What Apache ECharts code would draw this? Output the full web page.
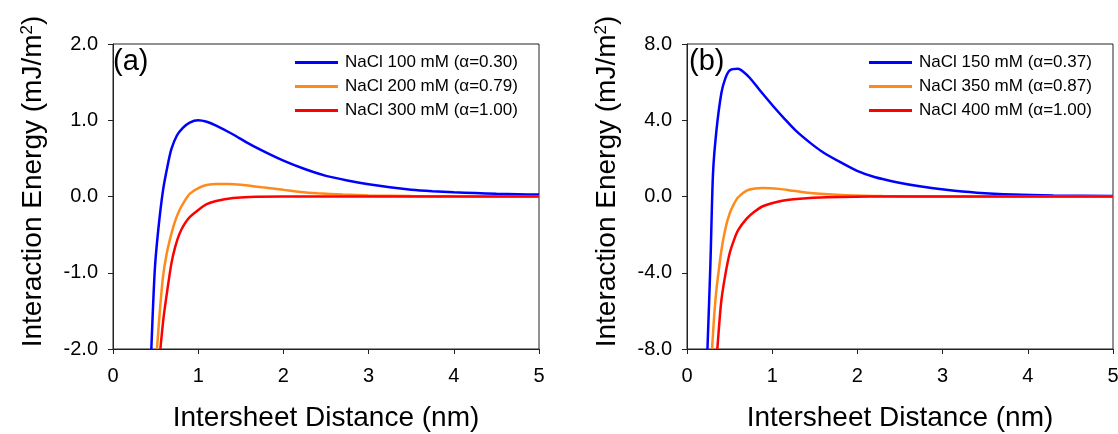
<!DOCTYPE html>
<html>
<head>
<meta charset="utf-8">
<script src="https://cdn.jsdelivr.net/npm/echarts@6/dist/echarts.min.js"></script>
<style>html,body{margin:0;padding:0;background:#fff;}#c{width:1118px;height:434px;}</style>
</head>
<body>
<div id="c"></div>
<script>
// ---- data ----
const xTicks = [0, 1, 2, 3, 4, 5];
const yTicksA = [-2, -1, 0, 1, 2];
const yTicksB = [-8, -4, 0, 4, 8];
const namesA = ['NaCl 100 mM (α=0.30)', 'NaCl 200 mM (α=0.79)', 'NaCl 300 mM (α=1.00)'];
const namesB = ['NaCl 150 mM (α=0.37)', 'NaCl 350 mM (α=0.87)', 'NaCl 400 mM (α=1.00)'];
const blueA = [[0.45,-2],[0.49,-0.97],[0.53,-0.45],[0.587,0.08],[0.64,0.40],[0.685,0.62],[0.75,0.80],[0.82,0.90],[0.9,0.97],[1.0,1.0],[1.1,0.98],[1.21,0.93],[1.4,0.82],[1.6,0.69],[1.8,0.575],[2.0,0.47],[2.25,0.36],[2.5,0.27],[2.75,0.21],[3.0,0.16],[3.25,0.12],[3.5,0.09],[3.75,0.07],[4.0,0.055],[4.25,0.045],[4.5,0.035],[4.75,0.03],[5.0,0.025]];
const orangeA = [[0.516,-2],[0.55,-1.5],[0.587,-1.05],[0.63,-0.75],[0.685,-0.49],[0.73,-0.32],[0.78,-0.18],[0.84,-0.06],[0.9,0.035],[1.02,0.12],[1.1,0.15],[1.21,0.165],[1.35,0.165],[1.5,0.155],[1.75,0.12],[2.0,0.087],[2.2,0.06],[2.4,0.043],[2.7,0.025],[3.0,0.013],[3.5,0.005],[4.0,0.002],[5.0,0]];
const redA = [[0.556,-2],[0.59,-1.62],[0.627,-1.31],[0.685,-0.88],[0.73,-0.66],[0.78,-0.49],[0.84,-0.36],[0.9,-0.27],[1.02,-0.16],[1.1,-0.1],[1.21,-0.06],[1.41,-0.02],[1.6,-0.005],[2.0,0],[3.0,0],[4.0,0],[5.0,0]];
const blueB = [[0.24,-8],[0.275,-3.51],[0.305,1.18],[0.345,3.44],[0.404,5.44],[0.45,6.2],[0.50,6.61],[0.60,6.70],[0.66,6.55],[0.736,6.23],[0.85,5.6],[1.01,4.75],[1.15,4.05],[1.28,3.44],[1.45,2.8],[1.60,2.31],[1.8,1.8],[1.99,1.36],[2.2,1.02],[2.46,0.75],[2.75,0.52],[3.04,0.35],[3.4,0.2],[3.83,0.10],[4.3,0.05],[5.0,0.02]];
const orangeB = [[0.294,-8],[0.32,-6.2],[0.345,-4.9],[0.375,-3.8],[0.404,-2.82],[0.45,-1.7],[0.50,-0.90],[0.55,-0.4],[0.60,-0.04],[0.70,0.31],[0.8,0.42],[0.89,0.45],[1.08,0.40],[1.25,0.3],[1.48,0.17],[1.87,0.07],[2.3,0.02],[3.0,0],[4.0,0],[5.0,0]];
const redB = [[0.356,-8],[0.38,-6.6],[0.404,-5.43],[0.45,-4.1],[0.50,-2.99],[0.55,-2.3],[0.60,-1.77],[0.70,-1.16],[0.79,-0.8],[0.89,-0.51],[1.09,-0.25],[1.25,-0.15],[1.48,-0.07],[1.8,-0.02],[2.5,0],[3.0,0],[4.0,0],[5.0,0]];

// ---- styling ----
const FONT = '"Liberation Sans", Arial, sans-serif';
const colors = ['#0000ff', '#ff8a1a', '#ff0000'];
const axisColor = '#222';

function xAxis(gi) {
  return {
    type: 'value', gridIndex: gi,
    min: xTicks[0], max: xTicks[xTicks.length - 1], interval: xTicks[1] - xTicks[0],
    splitLine: { show: false },
    axisLine: { show: true, onZero: false, lineStyle: { color: axisColor, width: 1 } },
    axisTick: { show: true, inside: false, length: 5, lineStyle: { color: axisColor } },
    axisLabel: { color: '#000', fontSize: 20, fontFamily: FONT, margin: 17,
                 formatter: v => String(v) },
    name: 'Intersheet Distance (nm)', nameLocation: 'middle', nameGap: 55,
    nameTextStyle: { color: '#000', fontSize: 28, fontFamily: FONT }
  };
}
function yAxis(gi, ticks) {
  return {
    type: 'value', gridIndex: gi,
    min: ticks[0], max: ticks[ticks.length - 1], interval: ticks[1] - ticks[0],
    splitLine: { show: false },
    axisLine: { show: true, onZero: false, lineStyle: { color: axisColor, width: 1 } },
    axisTick: { show: true, inside: false, length: 5, lineStyle: { color: axisColor } },
    axisLabel: { color: '#000', fontSize: 20, fontFamily: FONT, margin: 15,
                 formatter: v => v.toFixed(1) },
    name: '{t|Interaction Energy (mJ/m}{s|2}{t|)}', nameLocation: 'middle', nameGap: 66,
    nameTextStyle: { color: '#000', fontFamily: FONT, padding: [0, 0, 0, 30],
      rich: { t: { fontSize: 28, fontFamily: FONT, color: '#000' },
              s: { fontSize: 17, fontFamily: FONT, color: '#000', verticalAlign: 'top' } } }
  };
}
function series(name, data, ci, gi) {
  return { type: 'line', name: name, data: data, xAxisIndex: gi, yAxisIndex: gi,
    showSymbol: false, symbol: 'none', smooth: 0.25, clip: true,
    lineStyle: { color: colors[ci], width: 2.5 }, itemStyle: { color: colors[ci] } };
}
function legend(left, names) {
  return { orient: 'vertical', left: left, top: 54, padding: 0, itemGap: 7,
    itemWidth: 43, itemHeight: 3, icon: 'rect', data: names,
    textStyle: { color: '#000', fontSize: 17, fontFamily: FONT, padding: [0, 0, 0, 2] } };
}

const chart = echarts.init(document.getElementById('c'), null, { renderer: 'canvas' });
chart.setOption({
  animation: false,
  backgroundColor: '#fff',
  title: [
    { text: '(a)', left: 113, top: 47, padding: 0, textStyle: { fontSize: 29, fontWeight: 'normal', color: '#000', fontFamily: FONT } },
    { text: '(b)', left: 689, top: 47, padding: 0, textStyle: { fontSize: 29, fontWeight: 'normal', color: '#000', fontFamily: FONT } }
  ],
  legend: [legend(295, namesA), legend(869, namesB)],
  grid: [
    { left: 113, right: 579, top: 44, bottom: 85, show: true, borderColor: axisColor, borderWidth: 1, backgroundColor: 'transparent', outerBoundsMode: 'none', containLabel: false },
    { left: 687, right: 5, top: 44, bottom: 85, show: true, borderColor: axisColor, borderWidth: 1, backgroundColor: 'transparent', outerBoundsMode: 'none', containLabel: false }
  ],
  xAxis: [xAxis(0), xAxis(1)],
  yAxis: [yAxis(0, yTicksA), yAxis(1, yTicksB)],
  series: [
    series(namesA[0], blueA, 0, 0), series(namesA[1], orangeA, 1, 0), series(namesA[2], redA, 2, 0),
    series(namesB[0], blueB, 0, 1), series(namesB[1], orangeB, 1, 1), series(namesB[2], redB, 2, 1)
  ]
});
</script>
</body>
</html>
